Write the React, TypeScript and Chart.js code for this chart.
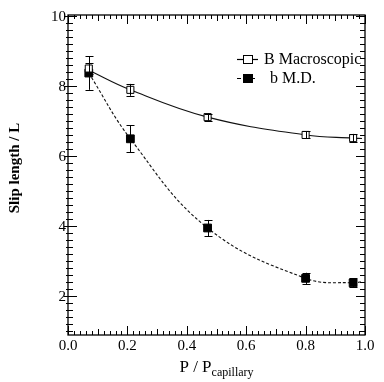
import React, { useEffect, useRef } from "react";
import { Chart, registerables } from "chart.js";

Chart.register(...registerables);

// Measured points
const xVals = [0.07, 0.21, 0.47, 0.8, 0.96];
const macroY = [8.5, 7.89, 7.11, 6.6, 6.51];
const macroErr = [0.15, 0.17, 0.1, 0.1, 0.12];
const mdY = [8.37, 6.49, 3.94, 2.5, 2.37];
const mdErr = [0.48, 0.39, 0.23, 0.16, 0.13];

// Fit curves
const fitMacroX = [0.07, 0.21, 0.47, 0.8, 0.96, 0.99];
const fitMacroY = [8.45, 7.89, 7.11, 6.6, 6.51, 6.5];
const fitMDX = [0.07, 0.21, 0.47, 0.8, 0.96, 0.99];
const fitMDY = [8.37, 6.49, 3.94, 2.5, 2.37, 2.41];

// Axis labels
const xTickLabels = ["0.0", "0.2", "0.4", "0.6", "0.8", "1.0"];
const yTickLabels = ["2", "4", "6", "8", "10"];
const legendLabels = ["B Macroscopic", "b M.D."];
const yTitle = "Slip length / L";
const xTitleMain = "P / P";
const xTitleSub = "capillary";

const SERIF = '"Liberation Serif", "DejaVu Serif", serif';

const decorPlugin = {
  id: "decor",
  afterDatasetsDraw(chart: any) {
    const ctx = chart.ctx;
    const xs = chart.scales.x;
    const ys = chart.scales.y;
    ctx.save();
    ctx.strokeStyle = "#000";
    ctx.lineWidth = 1;
    const drawErr = (yv: number[], ev: number[]) => {
      for (let i = 0; i < xVals.length; i++) {
        const px = Math.round(xs.getPixelForValue(xVals[i])) + 0.5;
        const t = ys.getPixelForValue(yv[i] + ev[i]);
        const b = ys.getPixelForValue(yv[i] - ev[i]);
        ctx.beginPath();
        ctx.moveTo(px, t);
        ctx.lineTo(px, b);
        ctx.moveTo(px - 4, Math.round(t) + 0.5);
        ctx.lineTo(px + 4, Math.round(t) + 0.5);
        ctx.moveTo(px - 4, Math.round(b) + 0.5);
        ctx.lineTo(px + 4, Math.round(b) + 0.5);
        ctx.stroke();
      }
    };
    drawErr(macroY, macroErr);
    drawErr(mdY, mdErr);
    ctx.restore();
  },
  afterDraw(chart: any) {
    const ctx = chart.ctx;
    const xs = chart.scales.x;
    const ys = chart.scales.y;
    const { left, right, top, bottom } = chart.chartArea;
    ctx.save();
    ctx.strokeStyle = "#000";
    ctx.fillStyle = "#000";
    ctx.lineWidth = 1.3;
    ctx.strokeRect(left, top, right - left, bottom - top);
    ctx.lineWidth = 1;
    ctx.beginPath();
    for (let k = 0; k <= 50; k++) {
      const v = k * 0.02;
      const px = Math.round(xs.getPixelForValue(v)) + 0.5;
      const len = k % 10 === 0 ? 9 : k % 5 === 0 ? 6 : 4;
      ctx.moveTo(px, bottom);
      ctx.lineTo(px, bottom - len);
      ctx.moveTo(px, top);
      ctx.lineTo(px, top + len);
    }
    for (let k = 5; k <= 50; k++) {
      const v = k * 0.2;
      const py = Math.round(ys.getPixelForValue(v)) + 0.5;
      if (py < top - 1 || py > bottom + 1) continue;
      const len = k % 10 === 0 ? 9 : 5;
      ctx.moveTo(left - (k % 10 === 0 ? 4 : 2), py);
      ctx.lineTo(left + len, py);
      ctx.moveTo(right, py);
      ctx.lineTo(right - len, py);
    }
    ctx.stroke();

    ctx.font = `15px ${SERIF}`;
    ctx.textAlign = "center";
    ctx.textBaseline = "middle";
    xTickLabels.forEach((s) => {
      ctx.fillText(s, xs.getPixelForValue(parseFloat(s)), bottom + 11);
    });
    ctx.textAlign = "right";
    yTickLabels.forEach((s) => {
      ctx.fillText(s, left - 2, ys.getPixelForValue(parseFloat(s)) + 1);
    });

    ctx.textAlign = "left";
    ctx.textBaseline = "alphabetic";
    ctx.font = `17px ${SERIF}`;
    const mainW = ctx.measureText(xTitleMain).width;
    ctx.font = `12px ${SERIF}`;
    const subW = ctx.measureText(xTitleSub).width;
    const tx = (left + right) / 2 - (mainW + subW) / 2;
    ctx.font = `17px ${SERIF}`;
    ctx.fillText(xTitleMain, tx, 372);
    ctx.font = `12px ${SERIF}`;
    ctx.fillText(xTitleSub, tx + mainW, 376);

    ctx.save();
    ctx.translate(15, 168);
    ctx.rotate(-Math.PI / 2);
    ctx.font = `bold 15px ${SERIF}`;
    ctx.textAlign = "center";
    ctx.textBaseline = "middle";
    ctx.fillText(yTitle, 0, 0);
    ctx.restore();

    const rows = [
      { y: 59.5, dash: [] as number[], fill: "#fff" },
      { y: 78.5, dash: [4, 3], fill: "#000" },
    ];
    rows.forEach((r, i) => {
      ctx.lineWidth = 1.2;
      ctx.setLineDash(r.dash);
      ctx.beginPath();
      ctx.moveTo(237, r.y);
      ctx.lineTo(258, r.y);
      ctx.stroke();
      ctx.setLineDash([]);
      ctx.lineWidth = 1;
      ctx.fillStyle = r.fill;
      ctx.fillRect(243.5, r.y - 4, 9, 8);
      ctx.strokeRect(243.5, r.y - 4, 9, 8);
      ctx.fillStyle = "#000";
      ctx.font = `16px ${SERIF}`;
      ctx.textAlign = "left";
      ctx.textBaseline = "middle";
      ctx.fillText(legendLabels[i], i === 0 ? 264 : 270, r.y);
    });
    ctx.restore();
  },
};

export default function App() {
  const ref = useRef<HTMLCanvasElement | null>(null);
  useEffect(() => {
    if (!ref.current) return;
    const chart = new Chart(ref.current, {
      type: "scatter",
      data: {
        datasets: [
          {
            label: "fitMacro",
            data: fitMacroX.map((x, i) => ({ x, y: fitMacroY[i] })),
            showLine: true,
            borderColor: "#111",
            borderWidth: 1.1,
            pointRadius: 0,
            tension: 0.4,
            order: 3,
          } as any,
          {
            label: "fitMD",
            data: fitMDX.map((x, i) => ({ x, y: fitMDY[i] })),
            showLine: true,
            borderColor: "#111",
            borderWidth: 1.1,
            borderDash: [3, 2],
            pointRadius: 0,
            tension: 0.4,
            order: 3,
          } as any,
          {
            label: legendLabels[0],
            data: xVals.map((x, i) => ({ x, y: macroY[i] })),
            pointStyle: "rect",
            pointRadius: 5,
            backgroundColor: "#fff",
            borderColor: "#000",
            borderWidth: 1,
            order: 1,
          },
          {
            label: legendLabels[1],
            data: xVals.map((x, i) => ({ x, y: mdY[i] })),
            pointStyle: "rect",
            pointRadius: 5.5,
            backgroundColor: "#000",
            borderColor: "#000",
            borderWidth: 1,
            order: 2,
          },
        ],
      },
      options: {
        animation: false,
        responsive: false,
        devicePixelRatio: 1,
        layout: { padding: { left: 68, right: 19, top: 15, bottom: 47 } },
        plugins: { legend: { display: false }, tooltip: { enabled: false } },
        scales: {
          x: { type: "linear", min: 0, max: 1.0, display: false },
          y: { type: "linear", min: 0.88, max: 10.03, display: false },
        },
      },
      plugins: [decorPlugin],
    });
    return () => chart.destroy();
  }, []);
  return (
    <div style={{ position: "fixed", left: 0, top: 0, width: 384, height: 382, background: "#fff" }}>
      <canvas ref={ref} width={384} height={382} style={{ width: 384, height: 382, display: "block" }} />
    </div>
  );
}
